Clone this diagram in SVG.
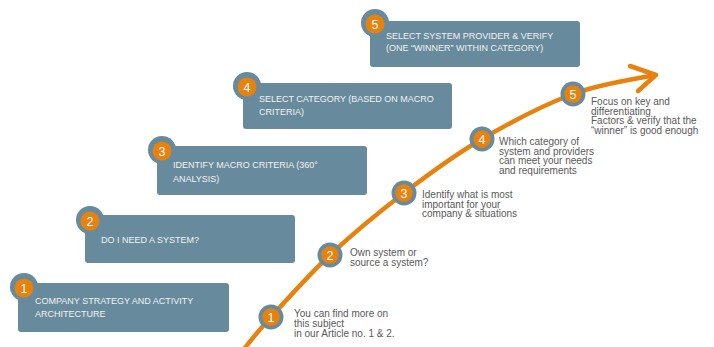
<svg xmlns="http://www.w3.org/2000/svg" width="714" height="347" viewBox="0 0 714 347">
<style>
.box{fill:#678a9c}
.ring{fill:#678a9c}
.dot{fill:#e8820e}
.num{font-family:"Liberation Sans",Arial,sans-serif;font-size:12.5px;fill:#ffffff;text-anchor:middle}
.bt{font-family:"Liberation Sans",Arial,sans-serif;font-size:9px;fill:#f2f2f2}
.ct{font-family:"Liberation Sans",Arial,sans-serif;font-size:10px;fill:#595959}
.curve{fill:none;stroke:#e8820e;stroke-width:4.5;stroke-linecap:round;stroke-linejoin:round}
</style>
<rect width="714" height="347" fill="#ffffff"/>
<g id="connectors">
<path class="curve" d="M243 350 C247.7 344.5 256.5 332.8 271 317 C285.5 301.2 307.8 275.7 330 255 C352.2 234.3 378.7 212.3 404 193 C429.3 173.7 453.8 155.5 482 139 C510.2 122.5 544.2 104.7 573 94 C601.8 83.3 641.3 78.2 655 75"/>
<path class="curve" d="M630 66 L656 75 L638 91"/>
</g>
<g id="box1">
<rect class="box" x="18" y="283" width="211" height="49" rx="3"/>
<circle class="ring" cx="24" cy="287" r="14"/>
<circle class="dot" cx="24" cy="288" r="9.5"/>
<text class="num" x="24" y="292.5">1</text>
<text class="bt" x="35" y="304">COMPANY STRATEGY AND ACTIVITY</text>
<text class="bt" x="35" y="317">ARCHITECTURE</text>
</g>
<g id="box2">
<rect class="box" x="85" y="215" width="210" height="48" rx="3"/>
<circle class="ring" cx="90" cy="220" r="14"/>
<circle class="dot" cx="90" cy="221" r="9.5"/>
<text class="num" x="90" y="225.5">2</text>
<text class="bt" x="101" y="243">DO I NEED A SYSTEM?</text>
</g>
<g id="box3">
<rect class="box" x="157" y="146" width="210" height="49" rx="3"/>
<circle class="ring" cx="162" cy="150" r="14"/>
<circle class="dot" cx="162" cy="151" r="9.5"/>
<text class="num" x="162" y="155.5">3</text>
<text class="bt" x="173" y="168">IDENTIFY MACRO CRITERIA (360°</text>
<text class="bt" x="173" y="182">ANALYSIS)</text>
</g>
<g id="box4">
<rect class="box" x="243" y="83" width="209" height="46" rx="3"/>
<circle class="ring" cx="247" cy="86" r="14"/>
<circle class="dot" cx="247" cy="87" r="9.5"/>
<text class="num" x="247" y="91.5">4</text>
<text class="bt" x="259" y="102">SELECT CATEGORY (BASED ON MACRO</text>
<text class="bt" x="259" y="115">CRITERIA)</text>
</g>
<g id="box5">
<rect class="box" x="370" y="21" width="210" height="46" rx="3"/>
<circle class="ring" cx="375" cy="23" r="14"/>
<circle class="dot" cx="375" cy="24" r="9.5"/>
<text class="num" x="375" y="28.5">5</text>
<text class="bt" x="386" y="39">SELECT SYSTEM PROVIDER &amp; VERIFY</text>
<text class="bt" x="386" y="51">(ONE “WINNER” WITHIN CATEGORY)</text>
</g>
<g id="step1">
<circle class="ring" cx="271" cy="317" r="12.5"/>
<circle class="dot" cx="271" cy="317" r="8.7"/>
<text class="num" x="271" y="321.5">1</text>
<text class="ct" x="294" y="317">You can find more on</text>
<text class="ct" x="294" y="327">this subject</text>
<text class="ct" x="294" y="337">in our Article no. 1 &amp; 2.</text>
</g>
<g id="step2">
<circle class="ring" cx="330" cy="255" r="12.5"/>
<circle class="dot" cx="330" cy="255" r="8.7"/>
<text class="num" x="330" y="259.5">2</text>
<text class="ct" x="350" y="256">Own system or</text>
<text class="ct" x="350" y="266">source a system?</text>
</g>
<g id="step3">
<circle class="ring" cx="404" cy="193" r="12.5"/>
<circle class="dot" cx="404" cy="193" r="8.7"/>
<text class="num" x="404" y="197.5">3</text>
<text class="ct" x="422" y="198">Identify what is most</text>
<text class="ct" x="422" y="207.5">important for your</text>
<text class="ct" x="422" y="217">company &amp; situations</text>
</g>
<g id="step4">
<circle class="ring" cx="482" cy="139" r="12.5"/>
<circle class="dot" cx="482" cy="139" r="8.7"/>
<text class="num" x="482" y="143.5">4</text>
<text class="ct" x="499" y="145">Which category of</text>
<text class="ct" x="499" y="154.5">system and providers</text>
<text class="ct" x="499" y="164">can meet your needs</text>
<text class="ct" x="499" y="173.5">and requirements</text>
</g>
<g id="step5">
<circle class="ring" cx="573" cy="94" r="12.5"/>
<circle class="dot" cx="573" cy="94" r="8.7"/>
<text class="num" x="573" y="98.5">5</text>
<text class="ct" x="591" y="105">Focus on key and</text>
<text class="ct" x="591" y="114.5">differentiating</text>
<text class="ct" x="591" y="124">Factors &amp; verify that the</text>
<text class="ct" x="591" y="133.5">“winner” is good enough</text>
</g>
</svg>
